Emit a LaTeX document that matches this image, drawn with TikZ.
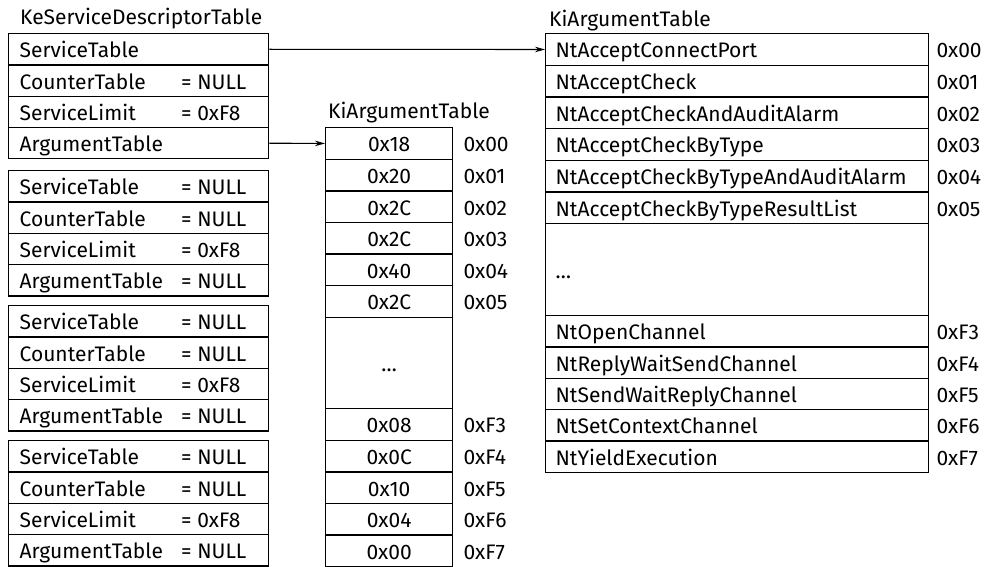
\documentclass[tikz,border=0pt]{standalone}
\usepackage{fontspec}
\setmainfont{Fira Sans}
\usetikzlibrary{arrows.meta,calc}
\newcommand\tfont{\fontsize{21pt}{23pt}\selectfont}
\begin{document}
\begin{tikzpicture}[x=1pt,y=-1pt,
  txt/.style={font=\tfont, text height=19pt, text depth=2pt},
  box/.style={txt, draw, line width=1.3pt, rectangle, anchor=north west, inner ysep=0pt},
  lcell/.style={box, inner xsep=11pt, text width=238pt, align=left, minimum height=31.3pt},
  mcell/.style={box, inner xsep=0pt, text width=127pt, align=center, minimum height=31.6pt},
  rcell/.style={box, inner xsep=10pt, text width=363pt, align=left, minimum height=#1},
  rcell/.default=31.67pt,
  val/.style={txt, anchor=west, inner sep=0pt},
  title/.style={txt, anchor=west, inner sep=0pt},
  link/.style={line width=1.1pt, -{Stealth[length=10pt,width=5.5pt]}}
]
\useasboundingbox (0,0) rectangle (991,567);

% ---------- left: KeServiceDescriptorTable ----------
\node[title] (LT) at (20,16.5) {KeServiceDescriptorTable};
\node[lcell] (L1a) at (8,33) {ServiceTable};
\node[lcell] (L1b) at (8,64.3) {CounterTable};
\node[lcell] (L1c) at (8,95.6) {ServiceLimit};
\node[lcell] (L1d) at (8,126.9) {ArgumentTable};
\node[val] (L1bv) at ($(L1b.west)+(173,0)$) {= NULL};
\node[val] (L1cv) at ($(L1c.west)+(173,0)$) {= 0xF8};

\foreach \g/\t in {2/170,3/305,4/440} {
  \node[lcell] (L\g a) at (8,\t) {ServiceTable};
  \node[lcell] (L\g b) at (8,\t+31.3) {CounterTable};
  \node[lcell] (L\g c) at (8,\t+62.6) {ServiceLimit};
  \node[lcell] (L\g d) at (8,\t+93.9) {ArgumentTable};
  \node[val] (L\g av) at ($(L\g a.west)+(173,0)$) {= NULL};
  \node[val] (L\g bv) at ($(L\g b.west)+(173,0)$) {= NULL};
  \node[val] (L\g cv) at ($(L\g c.west)+(173,0)$) {= 0xF8};
  \node[val] (L\g dv) at ($(L\g d.west)+(173,0)$) {= NULL};
}

% ---------- middle: KiArgumentTable ----------
\node[title] (MT) at (328,110.5) {KiArgumentTable};
\foreach \v/\k [count=\n from 0] in {0x18/0x00,0x20/0x01,0x2C/0x02,0x2C/0x03,0x40/0x04,0x2C/0x05} {
  \node[mcell] (M\n) at (325,127+\n*31.6) {\v};
  \node[val] (MI\n) at ($(M\n.east)+(10,0)$) {\k};
}
\node[mcell, minimum height=91.4pt] (ME) at (325,316.6) {\dots};
\foreach \v/\k [count=\n from 0] in {0x08/0xF3,0x0C/0xF4,0x10/0xF5,0x04/0xF6,0x00/0xF7} {
  \node[mcell] (MB\n) at (325,408+\n*31.6) {\v};
  \node[val] (MBI\n) at ($(MB\n.east)+(10,0)$) {\k};
}

% ---------- right: KiArgumentTable (service names) ----------
\node[title] (RT) at (549,18.5) {KiArgumentTable};
\foreach \v/\k [count=\n from 0] in {NtAcceptConnectPort/0x00,NtAcceptCheck/0x01,NtAcceptCheckAndAuditAlarm/0x02,NtAcceptCheckByType/0x03,NtAcceptCheckByTypeAndAuditAlarm/0x04,NtAcceptCheckByTypeResultList/0x05} {
  \node[rcell] (R\n) at (545,33+\n*31.67) {\v};
  \node[val] (RI\n) at ($(R\n.east)+(7,0)$) {\k};
}
\node[rcell=92pt] (RE) at (545,223) {\dots};
\foreach \v/\k [count=\n from 0] in {NtOpenChannel/0xF3,NtReplyWaitSendChannel/0xF4,NtSendWaitReplyChannel/0xF5,NtSetContextChannel/0xF6,NtYieldExecution/0xF7} {
  \node[rcell=31.3pt] (RB\n) at (545,315+\n*31.3) {\v};
  \node[val] (RBI\n) at ($(RB\n.east)+(7,0)$) {\k};
}

% ---------- connectors ----------
\draw[link] (L1a.east) -- (R0.west);
\draw[link] (L1d.east) -- (M0.west);
\end{tikzpicture}
\end{document}
